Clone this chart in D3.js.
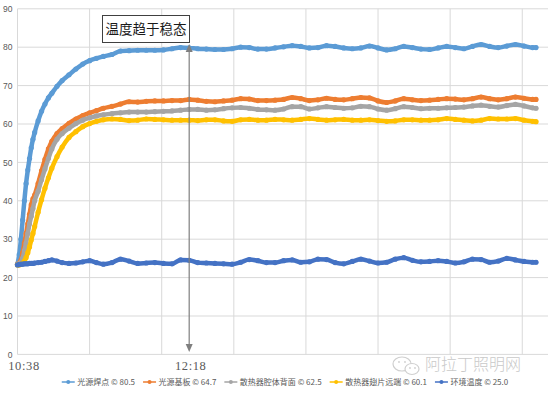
<!DOCTYPE html>
<html>
<head>
<meta charset="utf-8">
<script src="https://cdn.jsdelivr.net/npm/d3@7"></script>
<style>
  html, body { margin: 0; padding: 0; background: #fff; }
  svg { display: block; }
</style>
</head>
<body>
<svg id="chart" width="550" height="394"></svg>
<script>
// ---------------- DATA ----------------
const xTickMinutes = [0, 100];
const xTickLabels = ["10:38", "12:18"];
const yTicks = [0, 10, 20, 30, 40, 50, 60, 70, 80, 90];
const seriesNames = ["光源焊点", "光源基板", "散热器腔体背面", "散热器翅片远端", "环境温度"];
const legendValues = ["80.5", "64.7", "62.5", "60.1", "25.0"];
const annotationText = "温度趋于稳态";
const annotationMinute = 100;
const watermarkText = "阿拉丁照明网";

const minutes = [0,1,2,3,4,5,6,7,8,9,10,12,14,16,18,20,23,26,30,34,38,42,46,50,55,60,65,70,75,80,85,90,95,100,
  105,110,115,120,125,130,135,140,145,150,155,160,165,170,175,180,185,190,195,200,205,210,215,220,225,230,235,240,
  245,250,255,260,265,270,275,280,285,290,295,300,302];

const solderJoint = [23.5,26,30,35,40,44.5,48,51,53.8,56,57.8,60.8,63.3,65.2,66.8,68,69.8,71.3,72.8,74.3,75.6,76.5,77.1,77.6,78.1,79,79.1,79.2,79.2,79.2,79.3,79.6,79.9,79.8,
  79.6,79.5,79.4,79.4,79.6,80.0,79.9,79.5,79.5,79.8,80.1,80.4,80.2,79.8,79.9,80.4,80.2,79.8,79.6,79.8,80.3,79.8,79.3,79.6,80.2,79.9,79.5,79.4,
  79.8,80.2,79.9,79.6,80.2,80.7,80.2,79.9,80.3,80.7,80.3,79.9,79.9];

const substrate = [23.5,23.8,24.5,26.5,29,31.5,34,36.5,39,40.5,41.5,44.5,47.8,50.8,53.5,55.5,57.5,58.8,60.2,61.3,62.2,62.9,63.5,64.1,64.6,65.2,65.8,65.7,65.9,66,66,66.1,66.1,66.4,
  66.2,65.9,65.8,66.0,66.2,66.6,66.5,66.1,66.1,66.2,66.4,66.9,66.6,66.1,66.3,66.7,66.4,66.3,66.6,66.9,66.8,66.0,65.6,66.0,66.6,66.3,66.1,66.2,
  66.4,66.6,66.5,66.3,66.6,67.0,66.6,66.3,66.6,67.0,66.7,66.4,66.4];

const heatsinkBack = [23.5,23.6,24,25,27,29,31.5,34,36,38,40,42.5,45.5,48.3,51,53.5,56,57.5,58.9,60.1,61,61.6,62.1,62.4,62.7,62.9,63.1,63.1,63.1,63.2,63.3,63.4,63.6,63.8,
  63.8,63.6,63.7,64.0,64.2,64.3,64.1,63.8,63.7,63.6,63.9,64.5,64.5,63.9,64.2,64.5,64.3,64.1,64.2,64.6,64.5,63.9,63.6,64.0,64.5,64.3,64.0,64.1,
  64.1,64.2,64.3,64.4,64.7,64.9,64.6,64.4,64.8,65.1,64.7,64.2,64.1];

const finTip = [23.3,23.3,23.5,23.8,24.3,25.2,26.5,28,29.8,31.5,33.3,37,40.3,43.3,46,48.5,51.5,54,56.5,58,59.3,60.1,60.7,61.1,61.3,61.2,60.9,61.0,61.3,61.2,61.1,61.0,61.0,61.0,
  60.9,61.1,61.1,60.8,60.7,61.1,61.2,61.0,61.0,61.2,61.1,61.0,61.2,61.4,61.2,61.0,61.1,61.2,61.0,61.0,61.1,60.9,60.7,60.8,61.1,61.1,61.0,61.0,
  61.1,61.4,61.2,61.0,60.8,61.0,61.4,61.3,61.3,61.4,61.0,60.7,60.6];

const ambient = [23.3,23.4,23.5,23.5,23.6,23.6,23.6,23.7,23.7,23.7,23.8,23.9,24.0,24.2,24.4,24.6,24.3,23.9,23.7,23.8,24.1,24.4,23.9,23.5,23.9,24.8,24.3,23.7,23.8,23.9,23.7,23.6,24.6,24.5,
  23.9,23.8,23.7,23.6,23.5,24.0,24.7,24.4,23.9,23.9,24.4,24.6,24.0,24.1,24.8,24.7,23.9,23.6,24.2,24.8,24.3,23.8,24.0,24.8,25.2,24.5,24.1,24.2,
  24.4,24.2,23.8,24.1,24.8,24.7,24.0,24.3,25.0,24.6,24.2,24.0,24.0];

const seriesValues = [solderJoint, substrate, heatsinkBack, finTip, ambient];

// ---------------- STYLE ----------------
const colors = ["#5B9BD5", "#ED7D31", "#A5A5A5", "#FFC000", "#4472C4"];
const plot = { left: 17.5, right: 548, top: 8.8, bottom: 354.4 };
const dataRight = 536;
const gridColor = "#d9d9d9";
const textColor = "#595959";

const svg = d3.select("#chart");

const x = d3.scaleLinear().domain([0, d3.max(minutes)]).range([plot.left, dataRight]);
const y = d3.scaleLinear().domain([0, 90]).range([plot.bottom, plot.top]);

// vertical grid every 42 minutes (category interval)
const vGrid = d3.range(0, 302, 42);

const g = svg.append("g");

// horizontal grid
g.append("g").selectAll("line").data(yTicks).join("line")
  .attr("x1", plot.left).attr("x2", plot.right)
  .attr("y1", d => y(d)).attr("y2", d => y(d))
  .attr("stroke", gridColor).attr("stroke-width", 1);

// vertical grid
g.append("g").selectAll("line").data(vGrid).join("line")
  .attr("x1", d => x(d)).attr("x2", d => x(d))
  .attr("y1", plot.top).attr("y2", plot.bottom)
  .attr("stroke", gridColor).attr("stroke-width", 1);

// y axis labels via d3 axis
const yAxis = d3.axisLeft(y).tickValues(yTicks).tickSize(0).tickPadding(5);
const yg = g.append("g").attr("transform", `translate(${plot.left},0)`).call(yAxis);
yg.select(".domain").remove();
yg.selectAll("text").attr("fill", textColor)
  .style("font-family", "'Liberation Sans', Arial, sans-serif").style("font-size", "8.5px");

// x axis labels
const xAxis = d3.axisBottom(x).tickValues(xTickMinutes).tickSize(0).tickPadding(4)
  .tickFormat((d, i) => xTickLabels[i]);
const xg = g.append("g").attr("transform", `translate(0,${plot.bottom})`).call(xAxis);
xg.select(".domain").remove();
xg.selectAll("text").attr("fill", textColor)
  .style("font-family", "'Liberation Serif', 'DejaVu Serif', serif").style("font-size", "12.5px")
  .style("letter-spacing", "0.6px")
  .attr("dy", "0.95em")
  .attr("dx", (d, i) => i === 0 ? 6 : 1);

// series lines
const line = d3.line()
  .x((d, i) => x(minutes[i]))
  .y(d => y(d))
  .curve(d3.curveMonotoneX);

seriesValues.forEach((vals, si) => {
  const sg = g.append("g");
  sg.append("path").datum(vals)
    .attr("d", line)
    .attr("fill", "none")
    .attr("stroke", colors[si])
    .attr("stroke-width", 4.5)
    .attr("stroke-linejoin", "round")
    .attr("stroke-linecap", "round");
  sg.selectAll("circle").data(vals).join("circle")
    .attr("cx", (d, i) => x(minutes[i]))
    .attr("cy", d => y(d))
    .attr("r", 2.6)
    .attr("fill", colors[si]);
});

// annotation arrow
const ax = x(annotationMinute);
const arrowColor = "#7f7f7f";
const topTip = 44, botTip = 352;
g.append("line").attr("x1", ax).attr("x2", ax).attr("y1", topTip + 5).attr("y2", botTip - 5)
  .attr("stroke", arrowColor).attr("stroke-width", 1.2);
g.append("path").attr("d", `M${ax},${topTip} L${ax - 3.5},${topTip + 8} L${ax + 3.5},${topTip + 8} Z`).attr("fill", arrowColor);
g.append("path").attr("d", `M${ax},${botTip} L${ax - 3.5},${botTip - 8} L${ax + 3.5},${botTip - 8} Z`).attr("fill", arrowColor);

// annotation box
const boxG = g.append("g");
boxG.append("rect").attr("x", 102.5).attr("y", 15.5).attr("width", 87).attr("height", 27)
  .attr("fill", "#fff").attr("stroke", "#404040").attr("stroke-width", 1);
boxG.append("text").attr("x", 146).attr("y", 34)
  .attr("text-anchor", "middle")
  .style("font-family", "'Noto Sans CJK SC', sans-serif").style("font-size", "13.5px")
  .attr("fill", "#1a1a1a").text(annotationText);

// watermark
const wm = g.append("g");
wm.append("ellipse").attr("cx", 402).attr("cy", 364).attr("rx", 9).attr("ry", 7)
  .attr("fill", "#fff").attr("stroke", "#cfcfcf").attr("stroke-width", 1.2);
wm.append("ellipse").attr("cx", 412).attr("cy", 369).attr("rx", 7).attr("ry", 5.5)
  .attr("fill", "#fff").attr("stroke", "#cfcfcf").attr("stroke-width", 1.2);
[[399, 362], [405, 362], [410, 368], [415, 368]].forEach(p =>
  wm.append("circle").attr("cx", p[0]).attr("cy", p[1]).attr("r", 0.9).attr("fill", "#cfcfcf"));
wm.append("text").attr("x", 425).attr("y", 369.5)
  .style("font-family", "'Noto Sans CJK SC', sans-serif").style("font-size", "16px")
  .style("font-weight", 300)
  .attr("fill", "#c9c9c9").text(watermarkText);

// legend
const legend = g.append("g").attr("transform", "translate(0,382)");
const items = legend.selectAll("g").data(seriesNames).join("g");
items.append("line").attr("x1", 0).attr("x2", 13).attr("y1", 0).attr("y2", 0)
  .attr("stroke", (d, i) => colors[i]).attr("stroke-width", 1.5);
items.append("circle").attr("cx", 6.5).attr("cy", 0).attr("r", 2).attr("fill", (d, i) => colors[i]);
items.append("text").attr("x", 15.5).attr("y", 3)
  .style("font-family", "'Noto Sans CJK SC', sans-serif").style("font-size", "8px")
  .attr("fill", textColor)
  .text((d, i) => `${d} \u00a9 ${legendValues[i]}`);
// flow layout
const widths = [];
items.each(function () {
  widths.push(d3.select(this).select("text").node().getComputedTextLength() + 15.5);
});
const gap = 8;
const total = d3.sum(widths) + gap * (widths.length - 1);
let cursor = 285 - total / 2;
items.attr("transform", (d, i) => {
  const t = `translate(${cursor},0)`;
  cursor += widths[i] + gap;
  return t;
});
</script>
</body>
</html>
